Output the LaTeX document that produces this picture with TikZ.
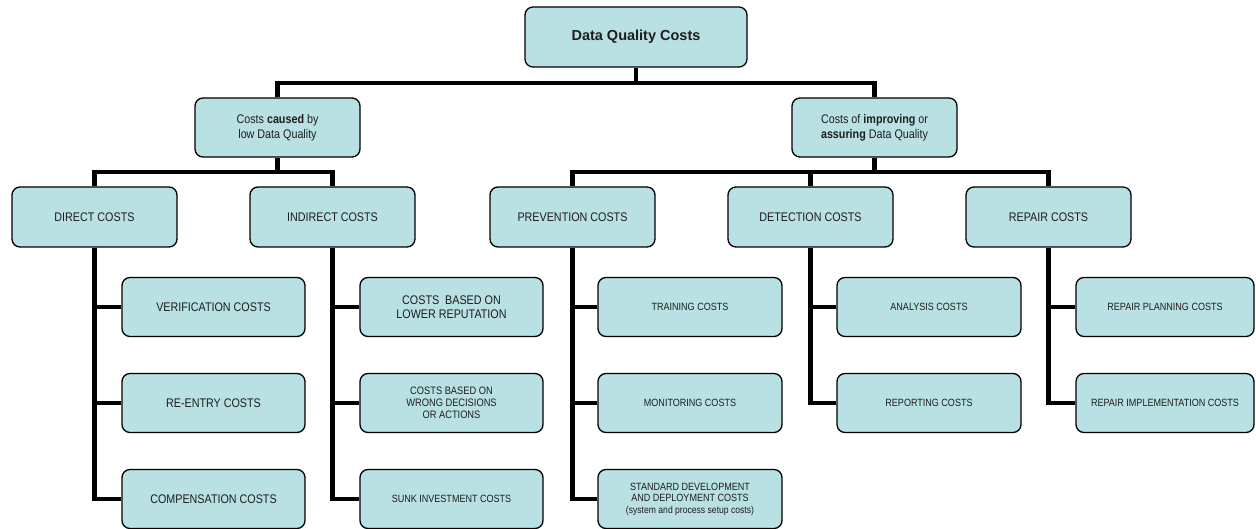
\documentclass[tikz,border=0pt]{standalone}
\usepackage{fontspec}
\setmainfont{Liberation Sans}
\newfontfamily\cnd[FakeStretch=0.86]{Liberation Sans}
\usetikzlibrary{backgrounds}
\definecolor{boxfill}{RGB}{185,224,227}
\definecolor{txt}{RGB}{30,30,30}
\newcommand{\fsA}{\cnd\fontsize{12.5}{14}\selectfont}
\newcommand{\fsB}{\cnd\fontsize{10.5}{11.5}\selectfont}
\newcommand{\fsC}{\cnd\fontsize{10.8}{12}\selectfont}
\begin{document}
\begin{tikzpicture}[x=1pt,y=-1pt,
  box/.style={draw=black, line width=1.3pt, fill=boxfill, rounded corners=8pt,
    align=center, inner sep=0pt, text=txt},
  lvltwo/.style={box, minimum width=165pt, minimum height=60pt, font=\fsA},
  leaf/.style={box, minimum width=183pt, minimum height=59pt},
  link/.style={line width=4.4pt, draw=black}]
\useasboundingbox (0,0) rectangle (1256,529);
\coordinate (busTop) at (0,83);
\coordinate (busL) at (0,172);
% root
\node[box, minimum width=222pt, minimum height=60pt,
  font=\fontsize{14.5}{17}\selectfont\bfseries] (root) at (636,37) {Data Quality Costs};
% level 1
\node[box, minimum width=165pt, minimum height=59pt, font=\cnd\fontsize{12.5}{15}\selectfont]
  (l1a) at (277.5,127.5) {Costs \textbf{caused} by\\low Data Quality};
\node[box, minimum width=165pt, minimum height=59pt, font=\cnd\fontsize{12.5}{15}\selectfont]
  (l1b) at (874.5,127.5) {Costs of \textbf{improving} or\\\textbf{assuring} Data Quality};
% level 2
\node[lvltwo] (direct) at (94.5,217) {DIRECT COSTS};
\node[lvltwo] (indirect) at (332.5,217) {INDIRECT COSTS};
\node[lvltwo] (prev) at (572.5,217) {PREVENTION COSTS};
\node[lvltwo] (detect) at (810.5,217) {DETECTION COSTS};
\node[lvltwo] (repair) at (1048.5,217) {REPAIR COSTS};
% leaves: direct
\node[leaf, font=\fsA] (d1) at (213.5,307) {VERIFICATION COSTS};
\node[leaf, font=\fsA] (d2) at (213.5,403) {RE-ENTRY COSTS};
\node[leaf, font=\fsA] (d3) at (213.5,499) {COMPENSATION COSTS};
% leaves: indirect
\node[leaf, font=\fsA] (i1) at (451.5,307) {COSTS\ \ BASED ON\\LOWER REPUTATION};
\node[leaf, font=\fsC] (i2) at (451.5,403) {COSTS BASED ON\\WRONG DECISIONS\\OR ACTIONS};
\node[leaf, font=\fsB] (i3) at (451.5,499) {SUNK INVESTMENT COSTS};
% leaves: prevention
\node[leaf, minimum width=184pt, font=\fsB] (p1) at (690,307) {TRAINING COSTS};
\node[leaf, minimum width=184pt, font=\fsB] (p2) at (690,403) {MONITORING COSTS};
\node[leaf, minimum width=184pt, font=\fsB] (p3) at (690,499)
  {STANDARD DEVELOPMENT\\AND DEPLOYMENT COSTS\\{\fontsize{10}{11.5}\selectfont(system and process setup costs)}};
% leaves: detection
\node[leaf, minimum width=184pt, font=\fsB] (e1) at (929,307) {ANALYSIS COSTS};
\node[leaf, minimum width=184pt, font=\fsB] (e2) at (929,403) {REPORTING COSTS};
% leaves: repair
\node[leaf, minimum width=178pt, font=\fsB] (r1) at (1165,307) {REPAIR PLANNING COSTS};
\node[leaf, minimum width=178pt, font=\fsB] (r2) at (1165,403) {REPAIR IMPLEMENTATION COSTS};
% connectors
\begin{pgfonlayer}{background}
\draw[link] (root.south) -- (root.south |- busTop);
\draw[link] (l1a.north) |- (root.south |- busTop) -| (l1b.north);
\draw[link] (l1a.south) -- (l1a.south |- busL);
\draw[link] (direct.north) |- (l1a.south |- busL) -| (indirect.north);
\draw[link] (l1b.south) -- (l1b.south |- busL);
\draw[link] (detect.north) -- (detect.north |- busL);
\draw[link] (prev.north) |- (detect.north |- busL) -| (repair.north);
% direct children
\draw[link] (direct.south) |- (d3.west);
\draw[link] (direct.south |- d1.west) -- (d1.west);
\draw[link] (direct.south |- d2.west) -- (d2.west);
% indirect children
\draw[link] (indirect.south) |- (i3.west);
\draw[link] (indirect.south |- i1.west) -- (i1.west);
\draw[link] (indirect.south |- i2.west) -- (i2.west);
% prevention children
\draw[link] (prev.south) |- (p3.west);
\draw[link] (prev.south |- p1.west) -- (p1.west);
\draw[link] (prev.south |- p2.west) -- (p2.west);
% detection children
\draw[link] (detect.south) |- (e2.west);
\draw[link] (detect.south |- e1.west) -- (e1.west);
% repair children
\draw[link] (repair.south) |- (r2.west);
\draw[link] (repair.south |- r1.west) -- (r1.west);
\end{pgfonlayer}
\end{tikzpicture}
\end{document}
